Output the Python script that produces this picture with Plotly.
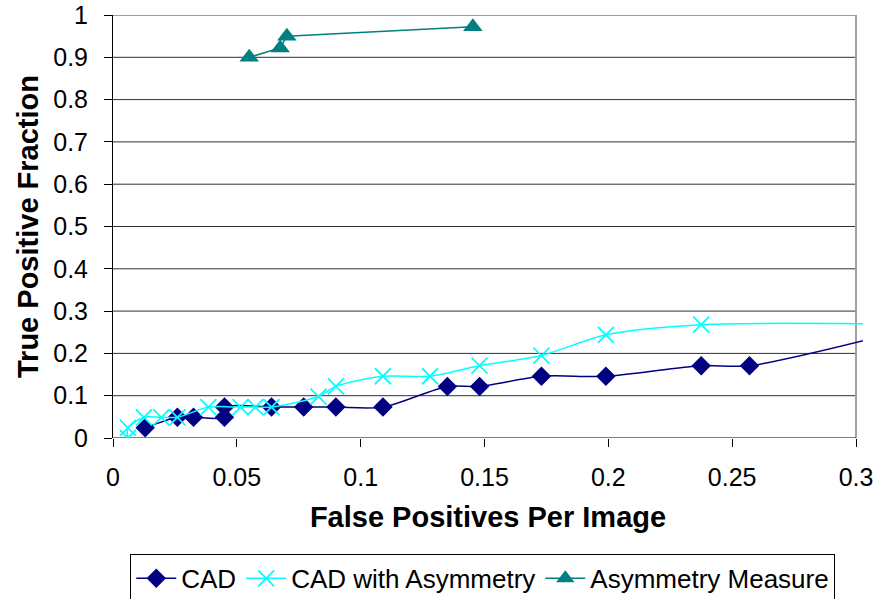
import plotly.graph_objects as go

# ---- data ----
cad_x = [0.013, 0.026, 0.0325, 0.045, 0.045, 0.064, 0.077, 0.090, 0.109, 0.135, 0.148, 0.173, 0.199, 0.2375, 0.257, 0.33]
cad_y = [0.024, 0.049, 0.049, 0.049, 0.073, 0.073, 0.073, 0.073, 0.073, 0.122, 0.122, 0.146, 0.146, 0.171, 0.171, 0.27]

asym_cad_x = [0.006, 0.006, 0.0125, 0.0195, 0.026, 0.0385, 0.0515, 0.0575, 0.064, 0.083, 0.090, 0.109, 0.128, 0.148, 0.173, 0.199, 0.2375, 0.33]
asym_cad_y = [0.0, 0.024, 0.049, 0.049, 0.049, 0.073, 0.073, 0.073, 0.073, 0.098, 0.122, 0.146, 0.146, 0.171, 0.195, 0.244, 0.268, 0.268]

measure_x = [0.055, 0.0675, 0.0702, 0.1453]
measure_y = [0.9, 0.922, 0.95, 0.972]

x_ticks = [0, 0.05, 0.1, 0.15, 0.2, 0.25, 0.3]
x_labels = ["0", "0.05", "0.1", "0.15", "0.2", "0.25", "0.3"]
y_ticks = [0, 0.1, 0.2, 0.3, 0.4, 0.5, 0.6, 0.7, 0.8, 0.9, 1.0]
y_labels = ["0", "0.1", "0.2", "0.3", "0.4", "0.5", "0.6", "0.7", "0.8", "0.9", "1"]

FONT = "Arial, Liberation Sans, sans-serif"

fig = go.Figure()
fig.add_trace(go.Scatter(
    x=cad_x, y=cad_y, name="CAD", mode="lines+markers",
    line=dict(color="#000080", width=1.5, shape="spline", smoothing=0.8),
    marker=dict(symbol="diamond", size=15, color="#000080"),
))
fig.add_trace(go.Scatter(
    x=asym_cad_x, y=asym_cad_y, name="CAD with Asymmetry", mode="lines+markers",
    line=dict(color="#00FFFF", width=1.5, shape="spline", smoothing=0.8),
    marker=dict(symbol="x-thin", size=16, color="#00FFFF", line=dict(color="#00FFFF", width=1.8)),
))
fig.add_trace(go.Scatter(
    x=measure_x, y=measure_y, name="Asymmetry Measure", mode="lines+markers",
    line=dict(color="#008080", width=1.5),
    marker=dict(symbol="triangle-up", size=17, color="#008080"),
))

x_max = 0.3
x_range_max = 0.3 * 750 / 743

shapes = []
for yv in y_ticks[1:-1]:
    shapes.append(dict(type="line", xref="x", yref="y", x0=0, x1=x_max, y0=yv, y1=yv,
                       line=dict(color="#303030", width=1), layer="below"))
shapes.append(dict(type="line", xref="x", yref="y", x0=0, x1=x_max, y0=1, y1=1,
                   line=dict(color="#A0A0A0", width=2), layer="below"))
shapes.append(dict(type="line", xref="x", yref="y", x0=x_max, x1=x_max, y0=0, y1=1,
                   line=dict(color="#A0A0A0", width=2), layer="below"))
shapes.append(dict(type="line", xref="x", yref="y", x0=0, x1=x_max, y0=0, y1=0,
                   line=dict(color="#000000", width=1), layer="below"))

fig.update_layout(
    width=877, height=599,
    margin=dict(l=113, r=14, t=15, b=161, autoexpand=False),
    paper_bgcolor="white", plot_bgcolor="white",
    font=dict(family=FONT, color="black", size=25),
    shapes=shapes,
    showlegend=True,
    legend=dict(orientation="h", x=0.493, xanchor="center", y=-0.332, yanchor="middle",
                bordercolor="black", borderwidth=1, font=dict(size=26), itemwidth=40,
                tracegroupgap=0),
    xaxis=dict(range=[0, x_range_max], tickvals=x_ticks, ticktext=x_labels,
               showgrid=False, zeroline=False, showline=False, automargin=False,
               ticks="outside", ticklen=8, tickcolor="black", tickwidth=1,
               tickfont=dict(size=25), ticklabelstandoff=9,
               title=dict(text="False Positives Per Image", font=dict(size=29, weight="bold"), standoff=16)),
    yaxis=dict(range=[0, 1], tickvals=y_ticks, ticktext=y_labels, automargin=False,
               showgrid=False, zeroline=False, showline=True, linecolor="black", linewidth=1,
               ticks="outside", ticklen=8, tickcolor="black", tickwidth=1,
               tickfont=dict(size=25), ticklabelstandoff=11,
               title=dict(text="True Positive Fraction", font=dict(size=29, weight="bold"), standoff=6)),
)

fig.write_html("out.html")
